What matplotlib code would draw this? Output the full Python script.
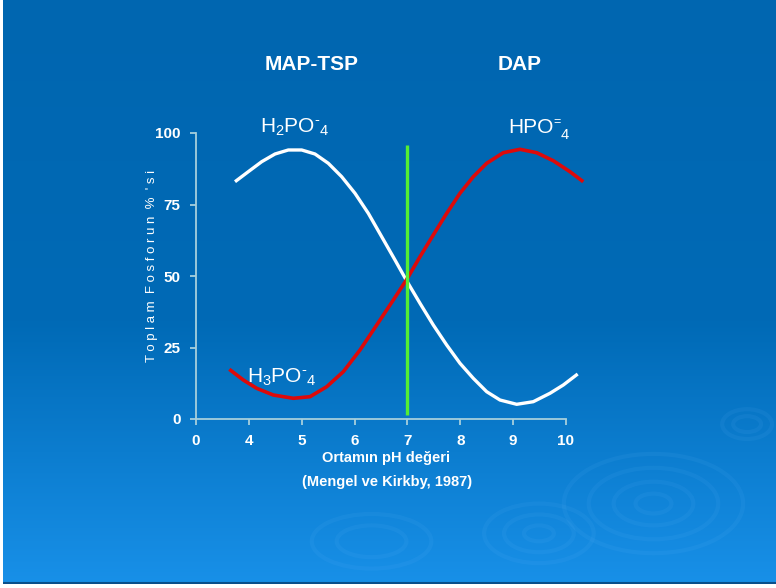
import numpy as np
import matplotlib
matplotlib.use('Agg')
import matplotlib.pyplot as plt
from matplotlib.patches import Ellipse

############## - Data - ########################################
tick_labels = ['0', '4', '5', '6', '7', '8', '9', '10']

# x is the position on the (evenly spaced) pH axis, 0..7
h2po4_x = [0.738, 0.989, 1.243, 1.495, 1.746, 2.000, 2.251, 2.503, 2.756, 3.008, 3.260, 3.513, 3.765,
           3.986, 4.238, 4.489, 4.743, 4.994, 5.246, 5.499, 5.751, 6.067, 6.381, 6.697, 6.949, 7.221]
h2po4_y = [82.97, 86.47, 89.97, 92.66, 94.06, 94.06, 92.66, 89.41, 84.72, 78.92, 71.92, 63.74, 55.59,
           48.30, 40.45, 32.87, 25.87, 19.48, 14.23, 9.55, 6.64, 5.14, 6.05, 8.99, 11.89, 15.73]

hpo4_x = [0.630, 0.895, 1.148, 1.462, 1.841, 2.157, 2.473, 2.787, 3.103, 3.419, 3.733, 3.986,
          4.238, 4.489, 4.743, 4.994, 5.246, 5.499, 5.814, 6.129, 6.445, 6.759, 7.075, 7.327]
hpo4_y = [17.38, 13.64, 10.73, 8.39, 7.24, 7.80, 11.29, 16.54, 24.13, 32.87, 41.61, 48.78,
          56.75, 64.34, 71.92, 78.92, 84.72, 89.41, 93.11, 94.30, 93.11, 90.31, 86.47, 82.97]

ph7_pos = 3.99
ph7_range = [1.4, 95.8]

############## - Style - ##################
font = 'Liberation Sans'
plt.rcParams['mathtext.fontset'] = 'custom'
plt.rcParams['mathtext.rm'] = font
plt.rcParams['mathtext.it'] = font
plt.rcParams['mathtext.default'] = 'regular'

fig = plt.figure(figsize=(7.76, 5.88), dpi=100)
fig.patch.set_facecolor('white')

# slide background: blue gradient
bg = fig.add_axes([3/776, 4/588, 773/776, 584/588])
bg.set_axis_off()
top = np.array([0, 102, 176]) / 255
mid = np.array([0, 106, 182]) / 255
bot = np.array([24, 144, 232]) / 255
t = np.linspace(0, 1, 300)[:, None]
grad = np.where(t < 0.55, top + (mid - top) * (t / 0.55), mid + (bot - mid) * ((t - 0.55) / 0.45))
bg.imshow(grad[:, None, :].repeat(2, axis=1), aspect='auto', extent=[0, 1, 0, 1], origin='upper')
bg.set_xlim(0, 1)
bg.set_ylim(0, 1)
bg.axhline(0.001, color='#0a4f8a', lw=1.5)

# faint ripples
for (cx, cy, rw, rh) in [(653, 507, 180, 100), (653, 507, 130, 72), (653, 507, 80, 44), (653, 507, 36, 20),
                         (538, 537, 110, 60), (538, 537, 70, 38), (538, 537, 30, 16),
                         (747, 427, 50, 30), (747, 427, 28, 16),
                         (370, 545, 120, 55), (370, 545, 70, 32)]:
    bg.add_patch(Ellipse((cx / 776, 1 - cy / 588), rw / 776, rh / 588, fill=False,
                         edgecolor=(0.45, 0.75, 1.0), alpha=0.08, lw=3))

############## - Chart - ##################
ax = fig.add_axes([196/776, 1 - 419/588, 370/776, 286/588])
ax.patch.set_alpha(0)

ax.plot(h2po4_x, h2po4_y, color='white', lw=2.4, clip_on=False, solid_capstyle='butt')
ax.plot(hpo4_x, hpo4_y, color='#dd0a0a', lw=2.6, clip_on=False, solid_capstyle='butt')
ax.plot([ph7_pos, ph7_pos], ph7_range, color='#55ee33', lw=2.4, clip_on=False, solid_capstyle='butt')

ax.set_xlim(0, 7)
ax.set_ylim(0, 100)
ax.set_xticks(range(len(tick_labels)))
ax.set_xticklabels(tick_labels)
ax.set_yticks([0, 25, 50, 75, 100])

for s in ['top', 'right']:
    ax.spines[s].set_visible(False)
for s in ['left', 'bottom']:
    ax.spines[s].set_color('#a6cfdc')
    ax.spines[s].set_linewidth(1.3)
ax.tick_params(colors='#a6cfdc', length=4, width=1.3, labelcolor='white', labelsize=11, pad=7)
for lab in ax.get_xticklabels() + ax.get_yticklabels():
    lab.set_family(font)
    lab.set_fontweight('bold')

ax.text(-0.119, 0.535, "T o p l a m  F o s f o r u n  %  ' s i", transform=ax.transAxes,
        rotation=90, color='white', fontsize=9.5, family=font, ha='center', va='center')
ax.text(3.59, -13.6, 'Ortamın pH değeri', color='white', fontsize=10.5, fontweight='bold',
        family=font, ha='center', va='center', clip_on=False)
ax.text(3.61, -21.9, '(Mengel ve Kirkby, 1987)', color='white', fontsize=10.5, fontweight='bold',
        family=font, ha='center', va='center', clip_on=False)

ax.text(1.87, 102, 'H$_2$PO$^{\u2010}$$_4$', color='white', fontsize=15, family=font,
        ha='center', va='center', clip_on=False)
ax.text(1.63, 14.5, 'H$_3$PO$^{\u2010}$$_4$', color='white', fontsize=15, family=font,
        ha='center', va='center', clip_on=False)

# HPO=4 built from pieces so the small "=" sits as a superscript
hpo = ax.text(5.90, 102, 'HPO', color='white', fontsize=15, family=font,
              ha='left', va='center', clip_on=False)
eq = ax.annotate('=', xy=(1.0, 0.78), xycoords=hpo, color='white', fontsize=9, family=font,
                 ha='left', va='center', annotation_clip=False)
ax.annotate('4', xy=(1.0, 0.08), xycoords=(eq, hpo), color='white', fontsize=10.5, family=font,
            ha='left', va='center', annotation_clip=False)

fig.text(312/776, 1 - 64/588, 'MAP-TSP', color='white', fontsize=15, fontweight='bold',
         family=font, ha='center', va='center')
fig.text(520/776, 1 - 64/588, 'DAP', color='white', fontsize=15, fontweight='bold',
         family=font, ha='center', va='center')

fig.savefig('out.png', dpi=100, facecolor=fig.get_facecolor())
